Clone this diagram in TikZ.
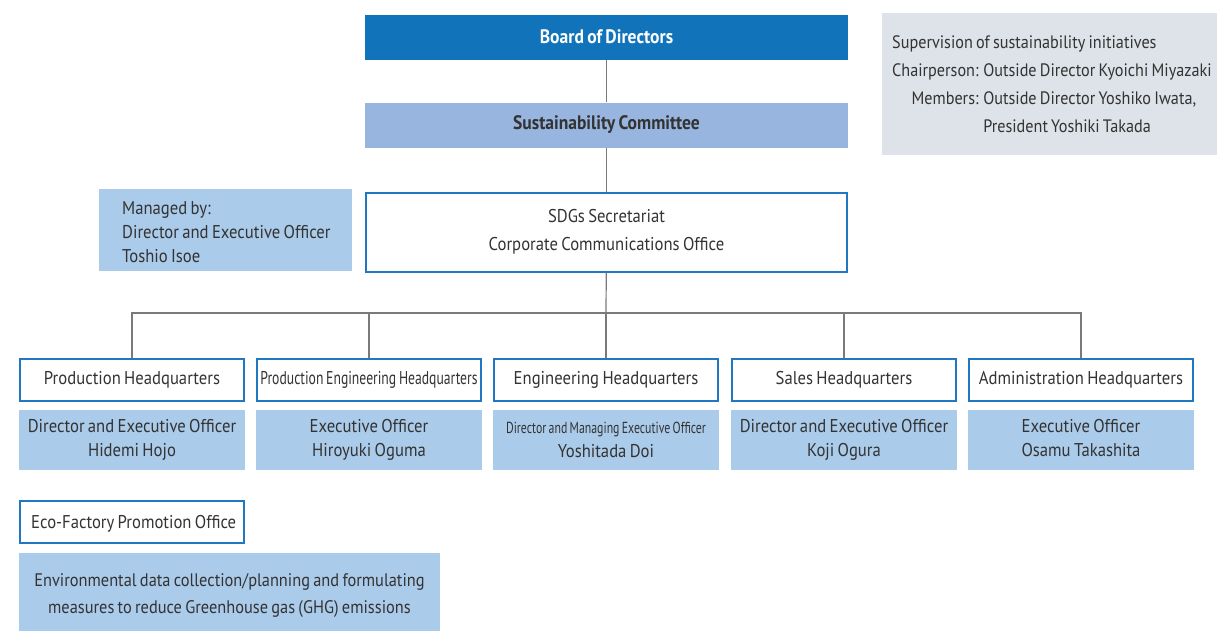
\documentclass[tikz,border=0pt]{standalone}
\usepackage{fontspec}
\setmainfont{PT Sans}[FakeStretch=0.9, WordSpace=0.75]
\usetikzlibrary{positioning}

\definecolor{boardblue}{HTML}{1174BB}
\definecolor{committeeblue}{HTML}{97B5DE}
\definecolor{paleblue}{HTML}{ABCBEA}
\definecolor{notegray}{HTML}{DDE3E8}
\definecolor{frameblue}{HTML}{1F78C1}
\definecolor{inkgray}{HTML}{333333}
\definecolor{linkgray}{HTML}{7A7A7A}

\newcommand{\chartfont}{\fontsize{18.5}{28}\selectfont}
\tikzset{
    box/.style={inner sep=0pt, align=center, text=inkgray, font=\chartfont},
    toprow/.style={box, minimum width=483pt, minimum height=45pt},
    board/.style={toprow, fill=boardblue, text=white, font=\fontsize{19.5}{28}\selectfont\bfseries},
    committee/.style={toprow, fill=committeeblue, font=\fontsize{19.5}{28}\selectfont\bfseries},
    frame/.style={box, draw=frameblue, line width=2pt},
    hq/.style={frame, minimum width=224pt, minimum height=42pt},
    officer/.style={box, fill=paleblue, minimum width=226pt, minimum height=60pt,
                    font=\fontsize{18.5}{24}\selectfont},
    plain/.style={box, align=left, anchor=west},
    link/.style={draw=linkgray, line width=1.2pt},
}
\newcommand{\narrowtext}[1]{\scalebox{0.82}[1]{#1}}
\newcommand{\chartcanvas}{
    \path[use as bounding box] (0,0) rectangle (1217,632);
}

\begin{document}
\begin{tikzpicture}[x=1pt, y=-1pt]
    \chartcanvas

    % top of the chart
    \node[board] (board) at (606.5,37) {Board of Directors};
    \node[committee] (committee) at (606.5,125) {Sustainability Committee};
    \node[box, frame, minimum width=481pt, minimum height=79pt] (sdgs) at (606.5,232)
        {SDGs Secretariat\\Corporate Communications Office};
    \draw[link] (board) -- (committee);
    \draw[link] (committee) -- (sdgs);

    \node[box, fill=notegray, minimum width=335pt, minimum height=142pt] (supervision) at (1049.5,84) {};
    \node[plain, font=\fontsize{18}{28}\selectfont] (supervisiontext) at (892,85) {%
        \begin{tabular}{@{}r@{ }l@{}}
            \multicolumn{2}{@{}l}{Supervision of sustainability initiatives}\\
            Chairperson: & Outside Director Kyoichi Miyazaki\\
            Members: & Outside Director Yoshiko Iwata,\\
            & President Yoshiki Takada
        \end{tabular}};

    \node[box, fill=paleblue, minimum width=253pt, minimum height=82pt] (manager) at (225.5,230) {};
    \node[plain, font=\fontsize{18.5}{24}\selectfont] (managertext) at (122,232)
        {Managed by:\\Director and Executive Officer\\Toshio Isoe};

    % headquarters row
    \node[hq] (prod) at (132,379.5) {Production Headquarters};
    \node[hq] (prodeng) at (369,379.5) {\narrowtext{Production Engineering Headquarters}};
    \node[hq] (eng) at (606,379.5) {Engineering Headquarters};
    \node[hq] (sales) at (844,379.5) {Sales Headquarters};
    \node[hq] (admin) at (1081,379.5) {Administration Headquarters};

    \coordinate (bus) at (606,313);
    \draw[link] (sdgs) -- (bus);
    \draw[link] (prod.north) |- (bus) -| (admin.north);
    \draw[link] (prodeng.north) -- (prodeng.north |- bus);
    \draw[link] (eng.north) -- (bus);
    \draw[link] (sales.north) -- (sales.north |- bus);

    \node[officer] (prodhead) at (132,440) {Director and Executive Officer\\Hidemi Hojo};
    \node[officer] (prodenghead) at (369,440) {Executive Officer\\Hiroyuki Oguma};
    \node[officer] (enghead) at (606,440)
        {\narrowtext{\fontsize{16}{24}\selectfont Director and Managing Executive Officer}\\Yoshitada Doi};
    \node[officer] (saleshead) at (844,440) {Director and Executive Officer\\Koji Ogura};
    \node[officer] (adminhead) at (1081,440) {Executive Officer\strut\\Osamu Takashita\strut};

    % eco-factory office
    \node[frame, minimum width=224pt, minimum height=42pt] (eco) at (132,522) {};
    \node[plain] (ecotext) at (31,524) {Eco-Factory Promotion Office};
    \node[box, fill=paleblue, minimum width=421pt, minimum height=78pt] (ecotask) at (229.5,592) {};
    \node[box, font=\fontsize{18.2}{27}\selectfont] (ecotasktext) at (229.5,596)
        {Environmental data collection/planning and formulating\\
         measures to reduce Greenhouse gas (GHG) emissions};

\end{tikzpicture}
\end{document}
